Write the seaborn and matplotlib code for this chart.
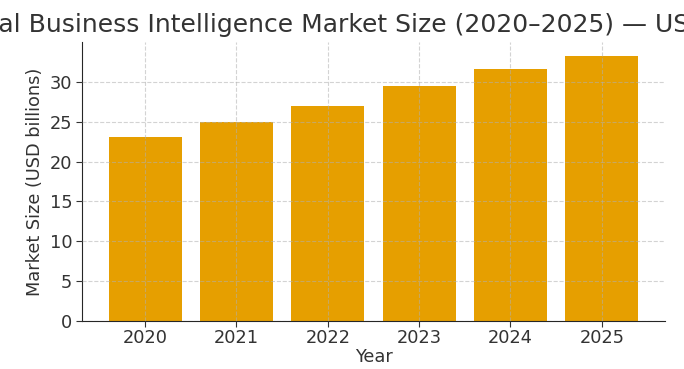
import matplotlib
matplotlib.use("Agg")
import matplotlib.pyplot as plt
import seaborn as sns
import pandas as pd

years = ["2020", "2021", "2022", "2023", "2024", "2025"]
market_size = [23.1, 25.0, 27.0, 29.5, 31.6, 33.3]

title = "Global Business Intelligence Market Size (2020–2025) — USD Billions"

sns.set_style("ticks")
plt.rcParams["font.family"] = ["DejaVu Sans"]

df = pd.DataFrame({"Year": years, "Market Size": market_size})

fig = plt.figure(figsize=(6.84, 3.69), dpi=100)
ax = fig.add_axes([0.12, 0.130, 0.852, 0.756])

sns.barplot(data=df, x="Year", y="Market Size", color="#E69F00",
            saturation=1, width=0.8, linewidth=0, ax=ax)

ax.set_xlim(-0.69, 5.69)
ax.set_ylim(0, 35)
ax.set_yticks([0, 5, 10, 15, 20, 25, 30])
ax.set_axisbelow(False)
ax.grid(True, linestyle="--", color="#b0b0b0", alpha=0.55, linewidth=0.8)
sns.despine(ax=ax)
ax.tick_params(labelsize=12.8, colors="#333333", length=4)
ax.tick_params(axis="x", pad=1.5)
ax.tick_params(axis="y", pad=3)
ax.set_xlabel("Year", fontsize=12.8, color="#333333", labelpad=1)
ax.set_ylabel("Market Size (USD billions)", fontsize=12.8, color="#333333", labelpad=4)
ax.set_title(title, fontsize=18, color="#333333", pad=7)

fig.savefig("out.png", dpi=100)
